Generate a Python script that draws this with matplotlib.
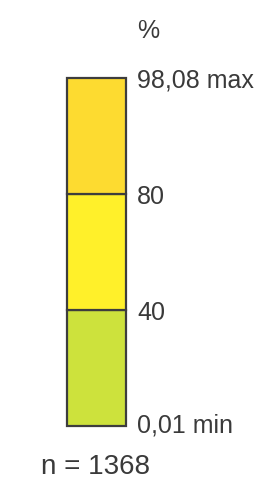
import matplotlib
matplotlib.use("Agg")
import matplotlib.pyplot as plt
import matplotlib.transforms as mtransforms

plt.rcParams['font.family'] = ['Liberation Sans', 'DejaVu Sans']

# Data
bin_labels = ["0,01 min", "40", "80", "98,08 max"]
bin_colors = ["#cde23c", "#fff02a", "#fddb30"]
unit_label = "%"
n_label = "n = 1368"

W, H = 266, 482
fig = plt.figure(figsize=(W / 100, H / 100), dpi=100)
left, right, top, bottom = 67, 126, 78, 426
ax = fig.add_axes([left / W, 1 - bottom / H, (right - left) / W, (bottom - top) / H])

n_bins = len(bin_colors)
for i, c in enumerate(bin_colors):
    bars = ax.bar(0, 1, bottom=i, width=1, color=c, edgecolor="#3d3d3d", linewidth=1.6)
    for b in bars:
        b.set_clip_on(False)

ax.set_xlim(-0.5, 0.5)
ax.set_ylim(0, n_bins)
ax.set_xticks([])
ax.yaxis.tick_right()
ax.set_yticks(range(len(bin_labels)))
ax.set_yticklabels(bin_labels, fontsize=18, color="#3a3a3a")
ax.tick_params(axis="y", length=0, pad=8)
for s in ax.spines.values():
    s.set_visible(False)

# nudge the min label slightly upward as in the reference
lbl0 = ax.get_yticklabels()[0]
lbl0.set_transform(lbl0.get_transform() + mtransforms.ScaledTranslation(0, 3 / 100, fig.dpi_scale_trans))

fig.text(137 / W, 1 - 31 / H, unit_label, fontsize=18, color="#3a3a3a", va="center", ha="left")
fig.text(41 / W, 1 - 467 / H, n_label, fontsize=20, color="#3a3a3a", va="center", ha="left")

fig.savefig("out.png", dpi=100)
